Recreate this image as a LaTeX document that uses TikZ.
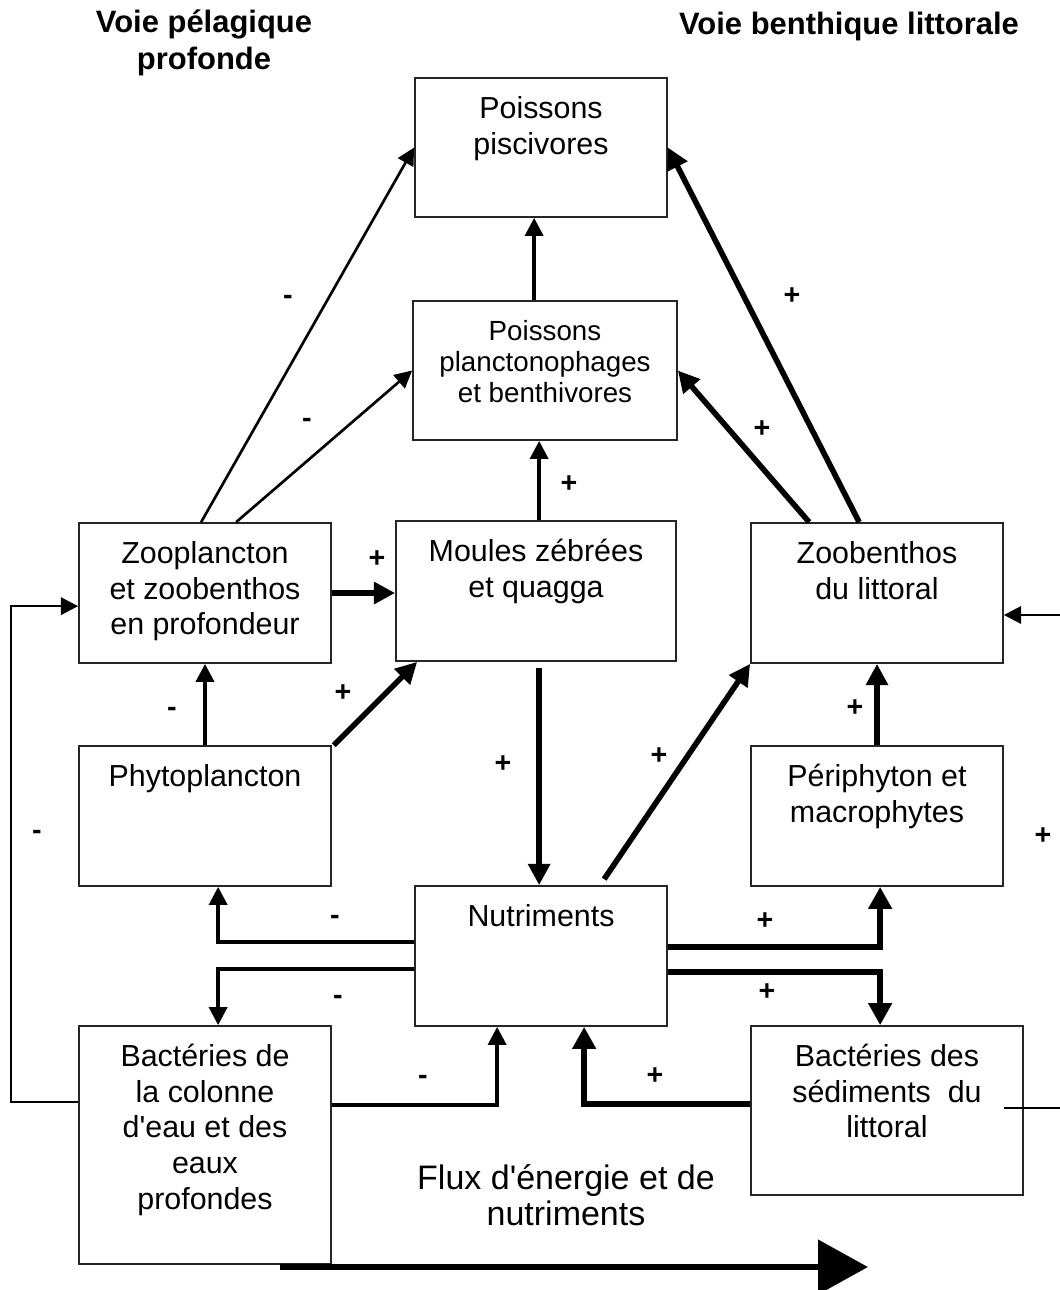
\documentclass[tikz,border=0pt]{standalone}
\usepackage{fontspec}
\setmainfont{Liberation Sans}[Ligatures=TeXOff]
\usetikzlibrary{arrows.meta,calc}
\newcommand{\mystrut}{\rule{0pt}{1em}}
\begin{document}
\begin{tikzpicture}[x=0.75pt,y=-0.75pt,
 bx/.style={draw=black!85, line width=1.3pt, inner sep=0pt},
 txt/.style={anchor=north, inner sep=0pt, align=center, font=\fontsize{22.8}{26.8}\selectfont},
 sg/.style={inner sep=0pt, font=\bfseries\fontsize{21.5}{21.5}\selectfont, text height=0.6em, text depth=0pt},
 ttl/.style={inner sep=0pt, align=center, font=\bfseries\fontsize{23.2}{28}\selectfont},
 aA/.style={line width=2pt, -{Triangle[length=13pt,width=13pt]}},
 aB/.style={line width=2.6pt, -{Triangle[length=13.5pt,width=13.5pt]}},
 aC/.style={line width=4.2pt, -{Triangle[length=16pt,width=16pt]}},
 aD/.style={line width=4.6pt, -{Triangle[length=16.5pt,width=17pt]}},
 ln/.style={line width=1.5pt},
]
\useasboundingbox (0,0) rectangle (1060,1290);

% boxes
\node[bx, minimum width=189pt, minimum height=104.25pt] (pisc) at (541,147.5) {};
\node[bx, minimum width=198pt, minimum height=104.25pt] (plancto) at (545,370.5) {};
\node[bx, minimum width=189pt, minimum height=105pt] (zoo) at (205,593) {};
\node[bx, minimum width=210pt, minimum height=105pt] (moules) at (536,591) {};
\node[bx, minimum width=189pt, minimum height=105pt] (zoob) at (877,593) {};
\node[bx, minimum width=189pt, minimum height=105pt] (phyto) at (205,816) {};
\node[bx, minimum width=189pt, minimum height=105pt] (peri) at (877,816) {};
\node[bx, minimum width=189pt, minimum height=105pt] (nutr) at (541,956) {};
\node[bx, minimum width=189pt, minimum height=178.5pt] (bcol) at (205,1145) {};
\node[bx, minimum width=204pt, minimum height=126.75pt] (bsed) at (887,1110.5) {};

% box texts
\node[txt] (piscT) at ($(pisc.north)+(0,10.5)$) {\mystrut Poissons\\piscivores};
\node[txt, font=\fontsize{20.8}{23.25}\selectfont] (planctoT) at ($(plancto.north)+(0,12)$) {\mystrut Poissons\\planctonophages\\et benthivores};
\node[txt] (zooT) at ($(zoo.north)+(0,10.5)$) {\mystrut Zooplancton\\et zoobenthos\\en profondeur};
\node[txt] (moulesT) at ($(moules.north)+(0,10.5)$) {\mystrut Moules zébrées\\et quagga};
\node[txt] (zoobT) at ($(zoob.north)+(0,10.5)$) {\mystrut Zoobenthos\\du littoral};
\node[txt] (phytoT) at ($(phyto.north)+(0,10.5)$) {\mystrut Phytoplancton};
\node[txt] (periT) at ($(peri.north)+(0,10.5)$) {\mystrut Périphyton et\\macrophytes};
\node[txt] (nutrT) at ($(nutr.north)+(0,10.5)$) {\mystrut Nutriments};
\node[txt] (bcolT) at ($(bcol.north)+(0,10.5)$) {\mystrut Bactéries de\\la colonne\\d'eau et des\\eaux\\profondes};
\node[txt] (bsedT) at ($(bsed.north)+(0,10.5)$) {\mystrut Bactéries des\\sédiments~ du\\littoral};

% titles
\node[ttl] (t1) at (204,43) {Voie pélagique\\profonde};
\node[ttl] (t2) at (849,26) {Voie benthique littorale};
\node[inner sep=0pt, align=center, font=\fontsize{25.5}{27}\selectfont] (flux) at (566,1195) {Flux d'énergie et de\\nutriments};

% arrows
\draw[aA] ($(zoo.north west)+(123,0)$) -- (pisc.west);
\draw[aA] ($(zoo.north west)+(158,0)$) -- (plancto.west);
\draw[aB] ($(plancto.north west)+(122,0)$) -- ($(pisc.south west)+(120,0)$);
\draw[aC] ($(zoob.north west)+(109,0)$) -- (pisc.east);
\draw[aC] ($(zoob.north west)+(59,0)$) -- (plancto.east);
\draw[aB] ($(moules.north west)+(144,0)$) -- ($(plancto.south west)+(127,0)$);
\draw[aC] (zoo.east) -- (zoo.east -| moules.west);
\draw[aB] (phyto.north) -- (zoo.south);
\draw[aC] ($(phyto.north east)+(2,0)$) -- ($(moules.south west)+(22,0)$);
\draw[aC] ($(moules.south west)+(144,6)$) -- ($(nutr.north west)+(125,0)$);
\draw[aC] ($(nutr.north west)+(190,-6)$) -- (zoob.south west);
\draw[aC] (peri.north) -- (zoob.south);
\draw[aB] ($(nutr.north west)+(0,57)$) -| ($(phyto.south west)+(140,0)$);
\draw[aB] ($(nutr.north west)+(0,84)$) -| ($(bcol.north west)+(140,0)$);
\draw[aD] ($(nutr.north east)+(0,62)$) -| ($(peri.south west)+(130,0)$);
\draw[aD] ($(nutr.north east)+(0,87)$) -| ($(bsed.north west)+(130,0)$);
\draw[aB] ($(bcol.north east)+(0,80)$) -| ($(nutr.south west)+(83,0)$);
\draw[aD] ($(bsed.north west)+(0,79)$) -| ($(nutr.south west)+(170,0)$);
\draw[aA] ($(bcol.north west)+(0,77)$) -- ++(-67,0) |- ($(zoo.north west)+(0,84)$);
\coordinate (rin) at (1060,615);
\draw[aA] (rin) -- (rin -| zoob.east);
\coordinate (rout) at (1060,1108);
\draw[ln] (rout) -- (rout -| zoob.east);
\coordinate (fl1) at (280,1267);
\coordinate (fl2) at (868,1267);
\draw[line width=5.2pt, -{Triangle[length=37.5pt,width=40pt]}] (fl1) -- (fl2);

% signs
\node[sg] (s1) at (288,300) {-};
\node[sg] (s2) at (307,423) {-};
\node[sg] (s3) at (792,300) {+};
\node[sg] (s4) at (762,433) {+};
\node[sg] (s5) at (569,488) {+};
\node[sg] (s6) at (377,563) {+};
\node[sg] (s7) at (172,712) {-};
\node[sg] (s8) at (343,697) {+};
\node[sg] (s9) at (503,768) {+};
\node[sg] (s10) at (659,760) {+};
\node[sg] (s11) at (855,712) {+};
\node[sg] (s12) at (335,920) {-};
\node[sg] (s13) at (338,1000) {-};
\node[sg] (s14) at (765,925) {+};
\node[sg] (s15) at (767,996) {+};
\node[sg] (s16) at (423,1080) {-};
\node[sg] (s17) at (655,1080) {+};
\node[sg] (s18) at (37,835) {-};
\node[sg] (s19) at (1043,840) {+};
\end{tikzpicture}
\end{document}
